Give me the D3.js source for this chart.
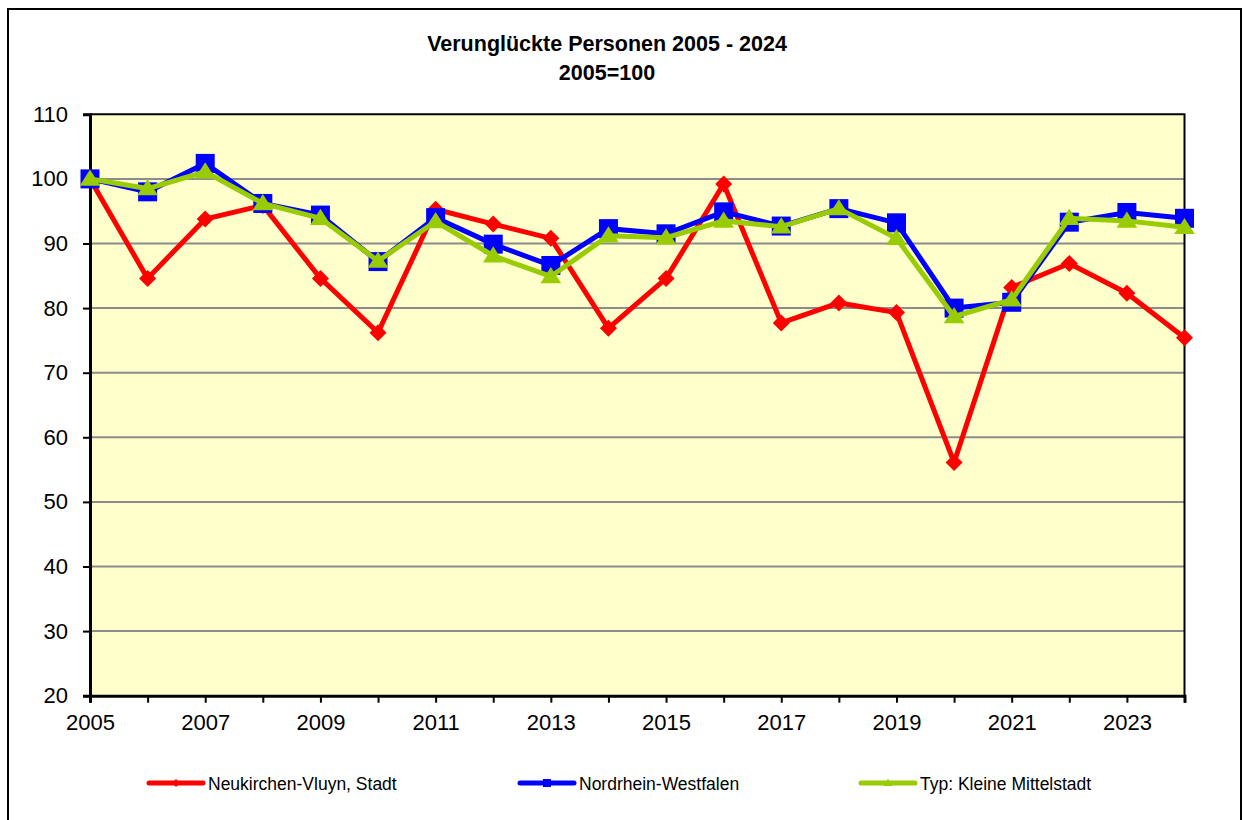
<!DOCTYPE html>
<html>
<head>
<meta charset="utf-8">
<script src="https://cdn.jsdelivr.net/npm/d3@7"></script>
<style>
  html, body { margin: 0; padding: 0; background: #fff; }
  svg { display: block; font-family: Arial, "Liberation Sans", sans-serif; }
</style>
</head>
<body>
<svg id="chart" width="1244" height="820"></svg>
<script>
// Verunglückte Personen, Index 2005 = 100
const years = d3.range(2005, 2025);
const neukirchen = [100, 84.6, 93.8, 95.9, 84.6, 76.2, 95.3, 93.0, 90.8, 76.9,
                    84.6, 99.2, 77.7, 80.8, 79.3, 56.1, 83.2, 86.9, 82.3, 75.4];
const nrw        = [100, 98.0, 102.4, 96.2, 94.4, 87.2, 94.0, 89.9, 86.6, 92.3,
                    91.5, 94.9, 92.7, 95.4, 93.2, 80.0, 80.9, 93.3, 94.8, 93.9];
const mittelstadt = [100, 98.5, 101.1, 96.2, 93.9, 87.3, 93.4, 88.1, 84.9, 91.2,
                    90.9, 93.5, 92.6, 95.4, 90.8, 78.7, 81.3, 93.9, 93.5, 92.5];
const yTicks = [20, 30, 40, 50, 60, 70, 80, 90, 100, 110];
const xTickLabels = [2005, 2007, 2009, 2011, 2013, 2015, 2017, 2019, 2021, 2023];

const seriesNames = ["Neukirchen-Vluyn, Stadt", "Nordrhein-Westfalen", "Typ: Kleine Mittelstadt"];
const seriesColors = ["#FF0000", "#0000FF", "#99CC00"];
const seriesShapes = ["diamond", "square", "triangle"];
const seriesValues = [neukirchen, nrw, mittelstadt];

const svg = d3.select("#chart");
const plot = { left: 90, right: 1184.5, top: 114.3, bottom: 695.7 };

// Outer chart frame
svg.append("rect")
  .attr("x", 8).attr("y", 9).attr("width", 1233).attr("height", 830)
  .attr("fill", "#fff").attr("stroke", "#000").attr("stroke-width", 2);

// Title
const title = svg.append("text")
  .attr("text-anchor", "middle")
  .attr("font-weight", "bold")
  .attr("font-size", 21.5)
  .attr("fill", "#000");
title.append("tspan").attr("x", 607).attr("y", 51).text("Verunglückte Personen 2005 - 2024");
title.append("tspan").attr("x", 607).attr("y", 80).text("2005=100");

const x = d3.scaleLinear().domain([2005, 2024]).range([plot.left, plot.right]);
const y = d3.scaleLinear().domain([20, 110]).range([plot.bottom, plot.top]);

// Plot background
svg.append("rect")
  .attr("x", plot.left).attr("y", plot.top)
  .attr("width", plot.right - plot.left).attr("height", plot.bottom - plot.top)
  .attr("fill", "#FFFFCC");

// Horizontal gridlines
svg.append("g")
  .selectAll("line")
  .data(yTicks.filter(v => v > 20 && v < 110))
  .join("line")
  .attr("x1", plot.left).attr("x2", plot.right)
  .attr("y1", d => y(d)).attr("y2", d => y(d))
  .attr("stroke", "#8C8C8C").attr("stroke-width", 2);

// Plot border (top and right)
svg.append("path")
  .attr("d", `M${plot.left},${plot.top}H${plot.right}V${plot.bottom}`)
  .attr("fill", "none").attr("stroke", "#000").attr("stroke-width", 2);

// Y axis
const yAxis = svg.append("g")
  .attr("transform", `translate(${plot.left},0)`)
  .call(d3.axisLeft(y).tickValues(yTicks).tickSize(7).tickPadding(15).tickFormat(d3.format("d")));
yAxis.select(".domain").attr("stroke", "#000").attr("stroke-width", 3);
yAxis.selectAll(".tick line").attr("stroke", "#000").attr("stroke-width", 2);
yAxis.selectAll(".tick text").attr("font-size", 22).attr("font-family", "Arial, 'Liberation Sans', sans-serif").attr("fill", "#000");

// X axis: a tick each year, a label every second year
const xAxis = svg.append("g")
  .attr("transform", `translate(0,${plot.bottom})`)
  .call(d3.axisBottom(x).tickValues(years).tickSize(7).tickPadding(12)
    .tickFormat(d => xTickLabels.includes(d) ? String(d) : ""));
xAxis.select(".domain").attr("stroke", "#000").attr("stroke-width", 3);
xAxis.selectAll(".tick line").attr("stroke", "#000").attr("stroke-width", 2);
xAxis.selectAll(".tick text").attr("font-size", 22).attr("font-family", "Arial, 'Liberation Sans', sans-serif").attr("fill", "#000");

// Marker shapes
function markerPath(shape, s) {
  if (shape === "diamond") return `M0,${-s}L${s},0L0,${s}L${-s},0Z`;
  if (shape === "square") return `M${-s},${-s}H${s}V${s}H${-s}Z`;
  return `M0,${-s * 1.05}L${s * 1.15},${s * 0.75}L${-s * 1.15},${s * 0.75}Z`;
}
const markerSize = { diamond: 8.5, square: 9.5, triangle: 9 };

const line = d3.line().x((d, i) => x(years[i])).y(d => y(d));

seriesValues.forEach((vals, k) => {
  const g = svg.append("g");
  g.append("path")
    .datum(vals)
    .attr("d", line)
    .attr("fill", "none")
    .attr("stroke", seriesColors[k])
    .attr("stroke-width", 5)
    .attr("stroke-linejoin", "miter");
  g.selectAll("path.marker")
    .data(vals)
    .join("path")
    .attr("class", "marker")
    .attr("transform", (d, i) => `translate(${x(years[i])},${y(d)})`)
    .attr("d", markerPath(seriesShapes[k], markerSize[seriesShapes[k]]))
    .attr("fill", seriesColors[k]);
});

// Legend
const legendX = [149, 520, 861];
const legendY = 783;
const legend = svg.append("g");
seriesNames.forEach((name, k) => {
  const lg = legend.append("g").attr("transform", `translate(${legendX[k]},${legendY})`);
  lg.append("line")
    .attr("x1", 0).attr("x2", 54).attr("y1", 0).attr("y2", 0)
    .attr("stroke", seriesColors[k]).attr("stroke-width", 5).attr("stroke-linecap", "round");
  lg.append("path")
    .attr("transform", "translate(27,0)")
    .attr("d", markerPath(seriesShapes[k], 4))
    .attr("fill", seriesColors[k]);
  lg.append("text")
    .attr("x", 59).attr("y", 6.5)
    .attr("font-size", 17.5)
    .attr("fill", "#000")
    .text(name);
});
</script>
</body>
</html>
